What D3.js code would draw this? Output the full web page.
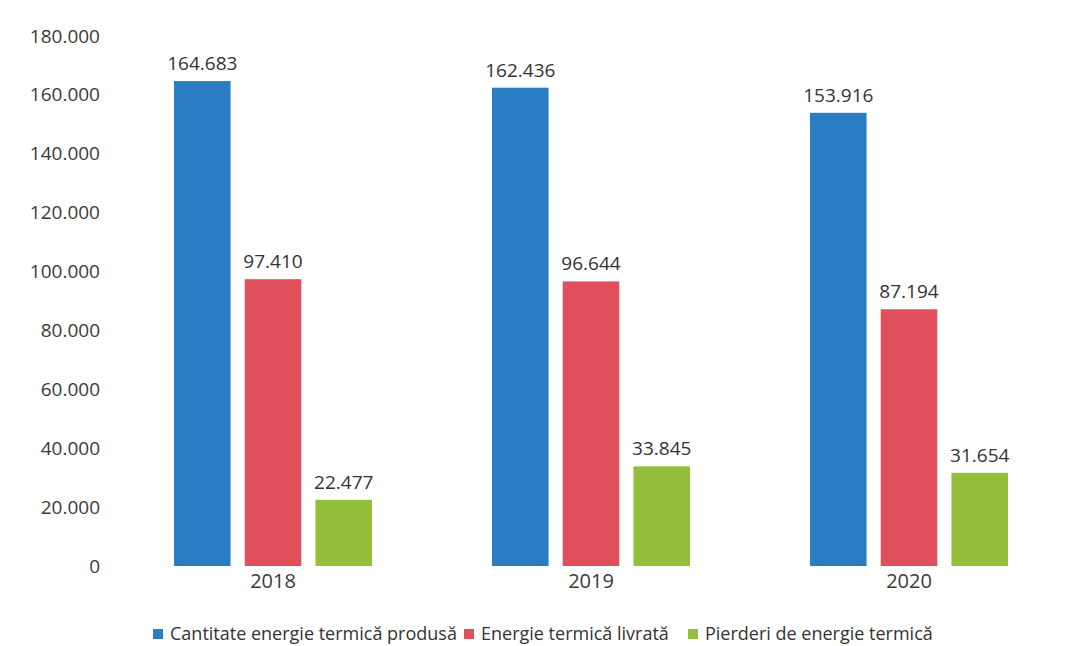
<!DOCTYPE html>
<html><head><meta charset="utf-8">
<script src="https://cdn.jsdelivr.net/npm/d3@7"></script>
<style>body{margin:0;background:#fff;}svg{display:block;}</style>
</head><body>
<svg id="chart" width="1078" height="646"></svg>
<script>
const years = ["2018", "2019", "2020"];
const seriesNames = ["Cantitate energie termică produsă", "Energie termică livrată", "Pierderi de energie termică"];
const produsa = [164683, 162436, 153916];
const livrata = [97410, 96644, 87194];
const pierderi = [22477, 33845, 31654];
const yTicks = [0, 20000, 40000, 60000, 80000, 100000, 120000, 140000, 160000, 180000];
const colors = ["#2b7dc3", "#e0505c", "#93bf3b"];

const series = [produsa, livrata, pierderi];
const loc = d3.formatLocale({decimal: ",", thousands: ".", grouping: [3], currency: ["", ""]});
const fmt = loc.format(",d");

const svg = d3.select("#chart");
const font = "'Open Sans', 'Noto Sans', sans-serif";

const y = d3.scaleLinear().domain([0, 180000]).range([566, 36]);
const x0 = d3.scaleBand().domain(years).range([114, 1068]).paddingInner(0).paddingOuter(0);
const groupW = 198;
const x1 = d3.scaleBand().domain(d3.range(3)).range([0, groupW]).paddingInner(0.2).paddingOuter(0);

// y axis
const yAxis = d3.axisLeft(y).tickValues(yTicks).tickSize(0).tickPadding(0).tickFormat(d => fmt(d));
const gy = svg.append("g").attr("transform", "translate(100,0)").call(yAxis);
gy.select(".domain").remove();
gy.selectAll("text").attr("font-family", font).attr("font-size", 19).attr("fill", "#3a3a3a");

// bars
years.forEach((yr, i) => {
  const gx = x0(yr) + (x0.bandwidth() - groupW) / 2;
  const g = svg.append("g").attr("transform", `translate(${gx},0)`);
  series.forEach((s, j) => {
    g.append("rect")
      .attr("x", x1(j)).attr("width", x1.bandwidth())
      .attr("y", y(s[i])).attr("height", y(0) - y(s[i]))
      .attr("fill", colors[j]);
    g.append("text")
      .attr("x", x1(j) + x1.bandwidth() / 2).attr("y", y(s[i]) - 11)
      .attr("text-anchor", "middle").attr("font-family", font).attr("font-size", 19)
      .attr("fill", "#333").text(fmt(s[i]));
  });
});

// x axis labels
const xAxis = d3.axisBottom(x0).tickSize(0).tickPadding(6);
const gx = svg.append("g").attr("transform", "translate(0,568)").call(xAxis);
gx.select(".domain").remove();
gx.selectAll("text").attr("font-family", font).attr("font-size", 20).attr("fill", "#3a3a3a");

// legend
const legendX = [153, 464, 688];
const lg = svg.append("g");
seriesNames.forEach((n, j) => {
  lg.append("rect").attr("x", legendX[j]).attr("y", 629).attr("width", 10).attr("height", 10).attr("fill", colors[j]);
  lg.append("text").attr("x", legendX[j] + 17).attr("y", 640)
    .attr("font-family", "'Liberation Sans Narrow', 'Open Sans', sans-serif").attr("font-size", 18)
    .attr("fill", "#333").text(n);
});
</script>
</body></html>
